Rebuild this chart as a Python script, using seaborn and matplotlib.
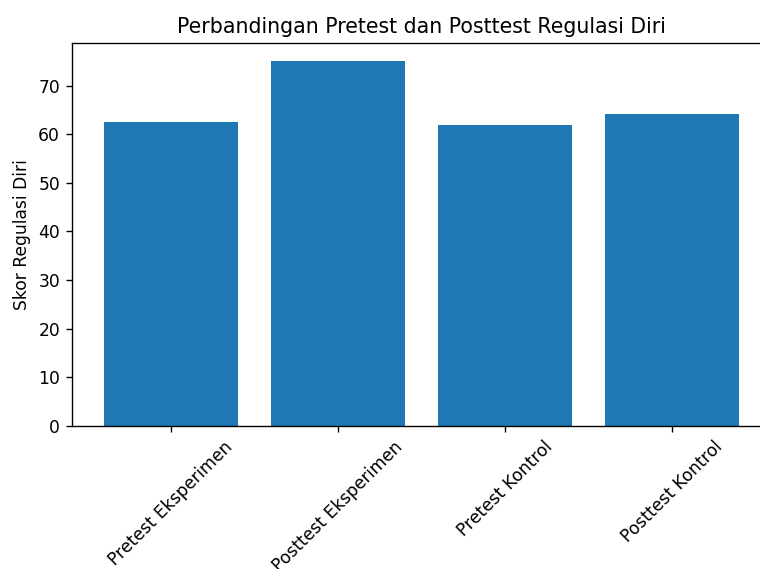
import matplotlib
matplotlib.use("Agg")
import matplotlib.pyplot as plt
import seaborn as sns

kelompok = ["Pretest Eksperimen", "Posttest Eksperimen", "Pretest Kontrol", "Posttest Kontrol"]
skor = [62.5, 75.0, 61.9, 64.2]

DPI = 123
fig = plt.figure(figsize=(760 / DPI, 569 / DPI), dpi=DPI)
ax = fig.add_axes([72 / 760, 1 - 426 / 569, (771 - 72) / 760, (426 - 43) / 569])

sns.barplot(x=kelompok, y=skor, color="#1f77b4", saturation=1, width=0.8,
            linewidth=0, ax=ax)

ax.set_xlim(-0.59, len(kelompok) - 1 + 0.59)
ax.set_title("Perbandingan Pretest dan Posttest Regulasi Diri")
ax.set_ylabel("Skor Regulasi Diri")
ax.set_xlabel("")
plt.setp(ax.get_xticklabels(), rotation=45)

fig.savefig("out.png", dpi=DPI)
